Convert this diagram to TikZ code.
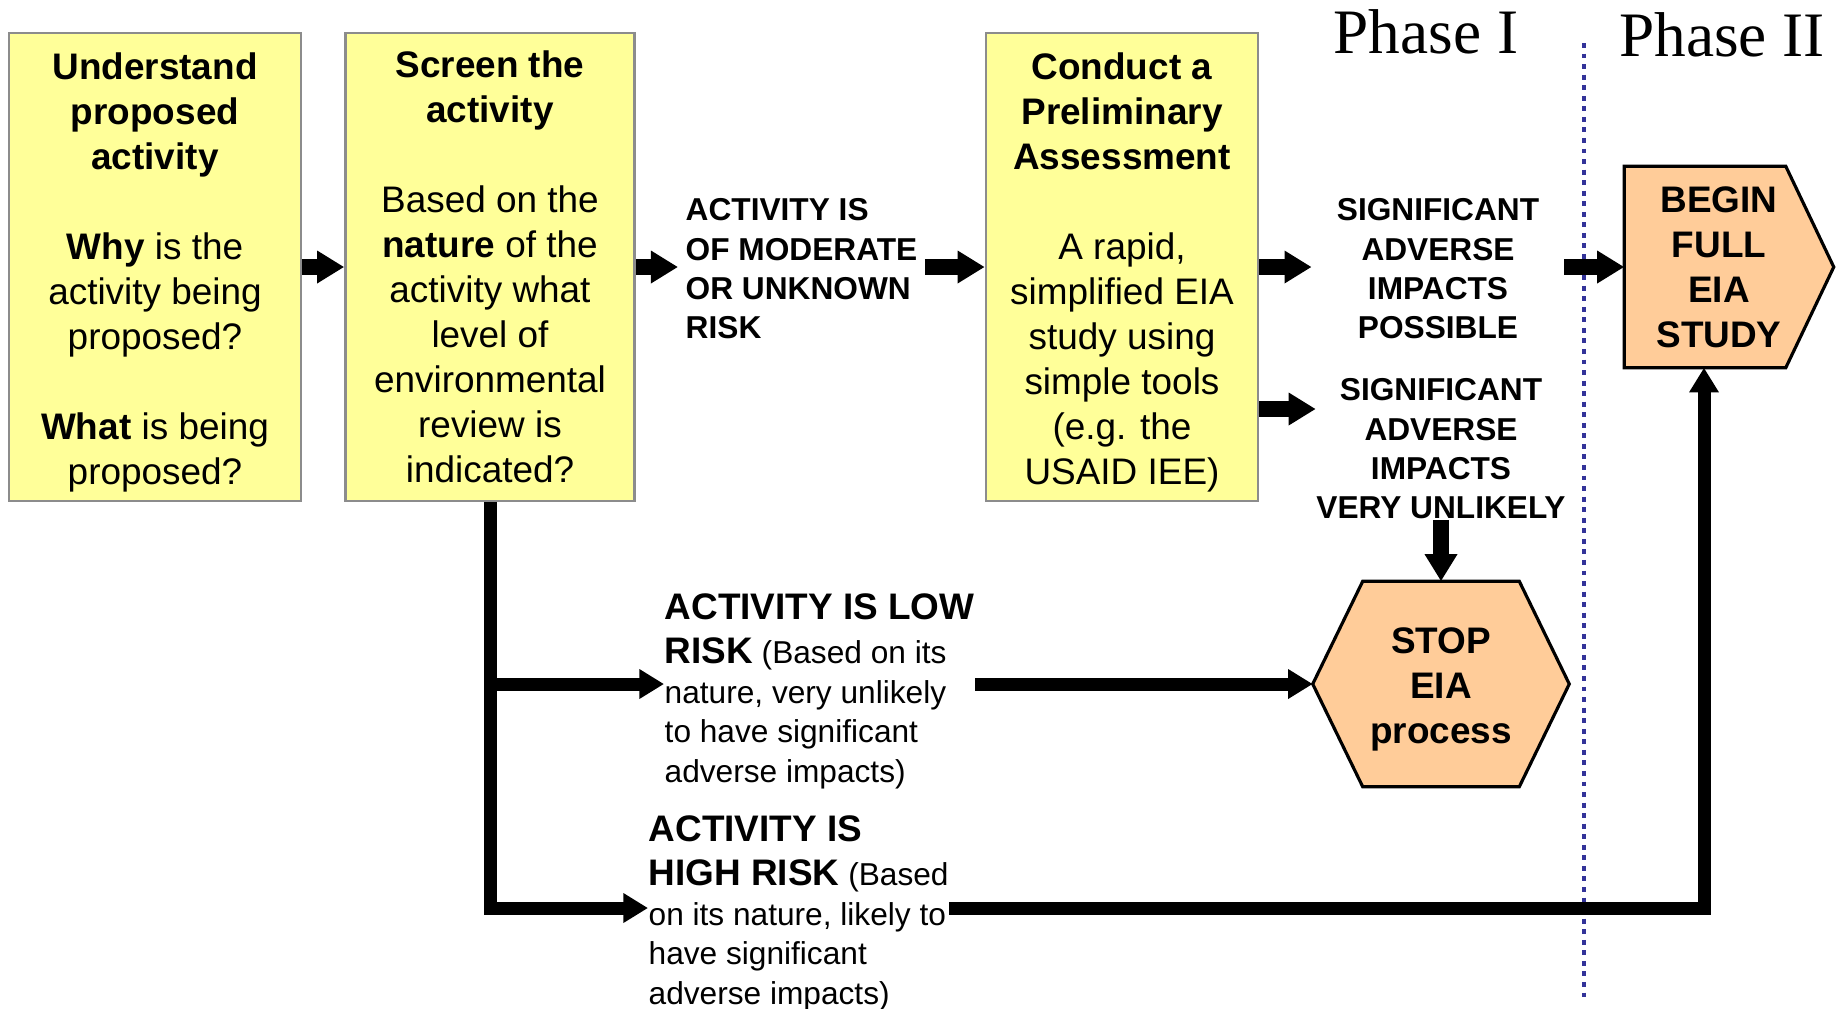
\documentclass[tikz,border=0pt]{standalone}
\usepackage{fontspec}
\setmainfont{Liberation Sans}
\newfontfamily\phasefont{Liberation Serif}
\usetikzlibrary{arrows.meta, positioning, calc, backgrounds}
\definecolor{boxyellow}{RGB}{255,255,153}
\definecolor{hexorange}{RGB}{255,204,153}
\definecolor{phaseline}{RGB}{51,51,153}
\definecolor{boxgray}{RGB}{140,140,140}
\newcommand{\boxfont}{\fontsize{10.5}{12.8}\selectfont}
\newcommand{\riskfont}{\fontsize{9}{11.2}\selectfont}
\newcommand{\bigrisk}[1]{{\fontsize{10.5}{12.8}\selectfont\bfseries #1}}
\newcommand{\topgap}{\rule{0pt}{10.5pt}}

\begin{document}
\begin{tikzpicture}[x=0.01cm, y=-0.01cm,
  stepbox/.style={draw=boxgray, line width=0.7pt, fill=boxyellow, align=center,
    font=\boxfont, minimum height=4.68cm, inner sep=0pt},
  outcome/.style={align=center, font=\riskfont\bfseries, inner sep=0pt},
  risk/.style={align=left, font=\riskfont, inner sep=0pt, anchor=west},
  endnode/.style={align=center, font=\boxfont\bfseries, inner sep=0pt},
  flow/.style={line width=4.4pt, -{Triangle[length=7.7pt,width=8.8pt]}},
  lowflow/.style={line width=3.7pt, -{Triangle[length=7pt,width=8pt]}}]
  \useasboundingbox (0,0) rectangle (1836,1008);

  % the three steps
  \node[stepbox, minimum width=2.92cm] (box1) at (155,267)
    {\topgap\textbf{Understand}\\ \textbf{proposed}\\ \textbf{activity}\\[12.8pt]
     \textbf{Why} is the\\ activity being\\ proposed?\\[12.8pt]
     \textbf{What} is being\\ proposed?};
  \node[stepbox, minimum width=2.89cm] (box2) at (490,267)
    {\textbf{Screen the}\\ \textbf{activity}\\[12.8pt]
     Based on the\\ \textbf{nature} of the\\ activity what\\ level of\\
     environmental\\ review is\\ indicated?};
  \node[stepbox, minimum width=2.72cm] (box3) at (1122,267)
    {\topgap\textbf{Conduct a}\\ \textbf{Preliminary}\\ \textbf{Assessment}\\[12.8pt]
     A rapid,\\ simplified EIA\\ study using\\ simple tools\\ (e.g. the\\ USAID IEE)};

  % outcomes
  \node[outcome, align=left, anchor=west, inner sep=2pt] (mod) at (678,269)
    {ACTIVITY IS\\ OF MODERATE\\ OR UNKNOWN\\ RISK};
  \node[outcome, inner xsep=7pt] (sigpos) at (1438,269)
    {SIGNIFICANT\\ ADVERSE\\ IMPACTS\\ POSSIBLE};
  \node[outcome] (unl) at (1441,449)
    {SIGNIFICANT\\ ADVERSE\\ IMPACTS\\ VERY UNLIKELY};
  \node[risk] (low) at (664,691)
    {\bigrisk{ACTIVITY IS LOW}\\[1.5pt]
     \bigrisk{RISK} (Based on its\\ nature, very unlikely\\
     to have significant\\ adverse impacts)};
  \node[risk] (high) at (648,913)
    {\bigrisk{ACTIVITY IS}\\[1.5pt]
     \bigrisk{HIGH RISK} (Based\\ on its nature, likely to\\
     have significant\\ adverse impacts)};

  % end points
  \node[endnode, minimum width=2.55cm, minimum height=2.04cm] (stop) at (1441,684)
    {\topgap STOP\\ EIA\\ process};
  \node[endnode, minimum width=1.88cm, minimum height=2.00cm] (begin) at (1719,267)
    {BEGIN\\ FULL\\ EIA\\ STUDY};
  \begin{scope}[on background layer]
    \draw[line width=0.9pt, fill=hexorange] (stop.west)
      -- ($(stop.north west)+(50,0)$) -- ($(stop.north east)+(-50,0)$)
      -- (stop.east) -- ($(stop.south east)+(-50,0)$)
      -- ($(stop.south west)+(50,0)$) -- cycle;
    \draw[line width=0.9pt, fill=hexorange] (begin.north west)
      -- ($(begin.north east)+(-28,0)$) -- ($(begin.east)+(20,0)$)
      -- ($(begin.south east)+(-28,0)$) -- (begin.south west) -- cycle;
  \end{scope}

  % phases
  \node[font=\phasefont\fontsize{18}{20}\selectfont] (phase1) at (1426,32) {Phase I};
  \node[font=\phasefont\fontsize{18}{20}\selectfont] (phase2) at (1722,35) {Phase II};
  \draw[phaseline, line width=1.4pt, dash pattern=on 1.4pt off 1.6pt] (1584,43) -- (1584,998);

  % connectors
  \draw[flow] (box1) -- (box2);
  \draw[flow] (box2.east) -- (box2.east -| mod.west);
  \draw[flow] (mod.east |- box3.west) -- (box3.west);
  \draw[flow] (box3.east) -- (box3.east -| sigpos.west);
  \draw[flow] (sigpos.east |- begin.west) -- (begin.west);
  \coordinate (unlin) at ($(box3.east)+(0,142)$);
  \draw[flow] (unlin) -- (unlin -| unl.west);
  \draw[flow] (unl.south) -- (stop.north);
  \draw[lowflow] (box2.south) |- (low.west |- stop.west);
  \draw[lowflow] (box2.south) |- ($(high.west)+(0,-5)$);
  \draw[lowflow] (low.east |- stop.west) -- (stop.west);
  \draw[lowflow] ($(high.east)+(0,-5)$) -| ($(begin.south)+(-15,0)$);
\end{tikzpicture}
\end{document}
